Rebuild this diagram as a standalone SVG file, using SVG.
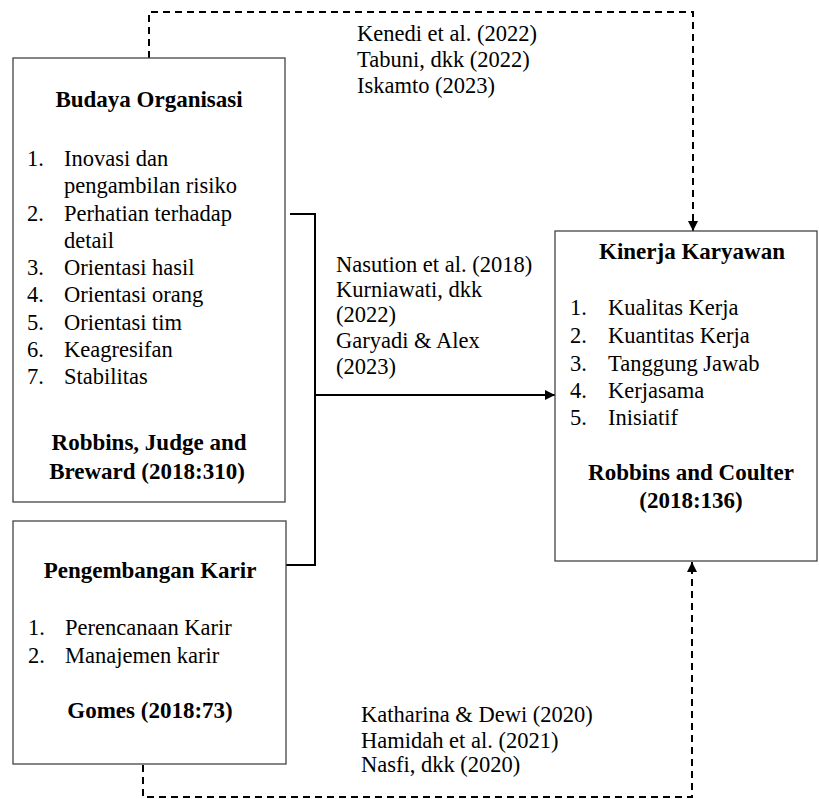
<svg xmlns="http://www.w3.org/2000/svg" width="819" height="799" viewBox="0 0 819 799">
<style>
text{font-family:'Liberation Serif','Times New Roman',Times,serif;font-size:22.5px;fill:#000}
.b{font-weight:bold;font-size:23px;text-anchor:middle}
.box{fill:#fff;stroke:#444;stroke-width:1.3}
.solid{fill:none;stroke:#000;stroke-width:2}
.dash{fill:none;stroke:#000;stroke-width:2;stroke-dasharray:7 5}
</style>
<defs>
<marker id="ah" viewBox="0 0 10 10" refX="10" refY="5" markerWidth="10" markerHeight="10" markerUnits="userSpaceOnUse" orient="auto">
<path d="M0,0 L10,5 L0,10 z" fill="#000"/>
</marker>
</defs>
<rect width="819" height="799" fill="#fff"/>
<g id="connectors">
<path class="dash" d="M149,58 V12 H693 V219"/>
<path d="M693,219 V231" class="solid" marker-end="url(#ah)"/>
<path class="dash" d="M143,765 V797 H692 V574"/>
<path d="M692,574 V562" class="solid" marker-end="url(#ah)"/>
<path class="solid" d="M290,214 H315 V565 H286"/>
<path class="solid" d="M315,395 H555" marker-end="url(#ah)"/>
</g>
<g id="labels">
<text x="357" y="41">Kenedi et al. (2022)</text>
<text x="357" y="67">Tabuni, dkk (2022)</text>
<text x="357" y="93">Iskamto (2023)</text>
<text x="336" y="272">Nasution et al. (2018)</text>
<text x="336" y="297">Kurniawati, dkk</text>
<text x="336" y="322">(2022)</text>
<text x="336" y="348">Garyadi &amp; Alex</text>
<text x="336" y="374">(2023)</text>
<text x="361" y="722">Katharina &amp; Dewi (2020)</text>
<text x="361" y="748">Hamidah et al. (2021)</text>
<text x="361" y="772">Nasfi, dkk (2020)</text>
</g>
<g id="budaya">
<rect class="box" x="13" y="58" width="272" height="444"/>
<text class="b" x="149" y="107">Budaya Organisasi</text>
<text x="27" y="166">1.</text><text x="64" y="166">Inovasi dan</text>
<text x="64" y="193">pengambilan risiko</text>
<text x="27" y="221">2.</text><text x="64" y="221">Perhatian terhadap</text>
<text x="64" y="248">detail</text>
<text x="27" y="275">3.</text><text x="64" y="275">Orientasi hasil</text>
<text x="27" y="302">4.</text><text x="64" y="302">Orientasi orang</text>
<text x="27" y="330">5.</text><text x="64" y="330">Orientasi tim</text>
<text x="27" y="357">6.</text><text x="64" y="357">Keagresifan</text>
<text x="27" y="384">7.</text><text x="64" y="384">Stabilitas</text>
<text class="b" x="149" y="450">Robbins, Judge and</text>
<text class="b" x="147" y="479">Breward (2018:310)</text>
</g>
<g id="karir">
<rect class="box" x="13" y="521" width="273" height="243"/>
<text class="b" x="150" y="578">Pengembangan Karir</text>
<text x="28" y="635">1.</text><text x="65" y="635">Perencanaan Karir</text>
<text x="28" y="663">2.</text><text x="65" y="663">Manajemen karir</text>
<text class="b" x="150" y="718">Gomes (2018:73)</text>
</g>
<g id="kinerja">
<rect class="box" x="555" y="231" width="262" height="330"/>
<text class="b" x="692" y="259">Kinerja Karyawan</text>
<text x="570" y="315">1.</text><text x="608" y="315">Kualitas Kerja</text>
<text x="570" y="343">2.</text><text x="608" y="343">Kuantitas Kerja</text>
<text x="570" y="371">3.</text><text x="608" y="371">Tanggung Jawab</text>
<text x="570" y="398">4.</text><text x="608" y="398">Kerjasama</text>
<text x="570" y="425">5.</text><text x="608" y="425">Inisiatif</text>
<text class="b" x="691" y="480">Robbins and Coulter</text>
<text class="b" x="691" y="508">(2018:136)</text>
</g>
</svg>
